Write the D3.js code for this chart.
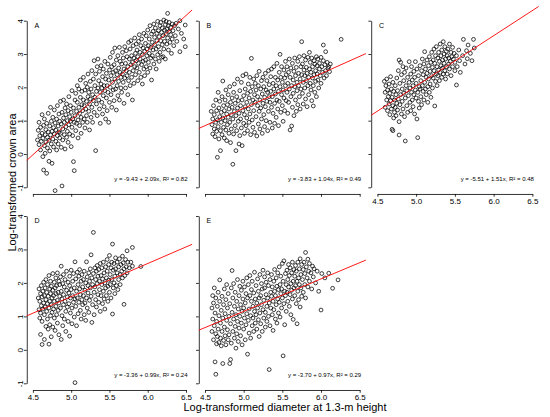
<!DOCTYPE html>
<html lang="en">
<head>
<meta charset="UTF-8" />
<title>Log-transformed crown area vs diameter</title>
<script src="https://d3js.org/d3.v7.min.js"></script>
<style>
  body { margin: 0; background: #fff; }
  svg { display: block; font-family: "Liberation Sans", Arial, sans-serif; }
  svg text { fill: #000; }
  .pt { fill: none; stroke: #000; stroke-width: 0.75; }
  .fit { stroke: #ff0000; stroke-width: 0.9; }
</style>
</head>
<body>
<svg id="chart" width="550" height="417"></svg>
<script>
// panel labels and fitted regressions
const panelLetters = ["A", "B", "C", "D", "E"];
const intercepts = [-9.43, -3.83, -5.51, -3.36, -3.70];
const slopes = [2.09, 1.04, 1.51, 0.99, 0.97];
const r2 = [0.82, 0.49, 0.48, 0.24, 0.29];
const xTicks = [4.5, 5.0, 5.5, 6.0, 6.5];
const yTicks = [-1, 0, 1, 2, 3, 4];

// points: [log diameter, log crown area]
const ptsA = [
[4.56,0.42],[4.57,0.71],[4.58,0.28],[4.58,0.95],[4.59,0.55],[4.60,0.12],[4.60,0.80],[4.61,0.38],[4.62,1.18],[4.62,0.62],[4.63,-0.08],[4.63,0.47],[4.64,0.86],[4.64,-0.48],[4.65,0.25],[4.65,1.05],
[4.66,0.58],[4.66,0.02],[4.67,0.73],[4.67,0.36],[4.68,-0.58],[4.68,0.92],[4.69,0.18],[4.69,0.50],[4.70,1.22],[4.70,0.66],[4.71,-0.22],[4.71,0.41],[4.72,0.84],[4.72,0.09],[4.73,0.57],[4.73,1.40],[4.74,0.30],[4.74,0.98],[4.75,0.68],[4.75,-0.28],
[4.76,0.45],[4.76,1.10],[4.77,0.79],[4.77,0.21],[4.78,0.60],[4.78,1.32],[4.79,-1.10],[4.79,0.93],[4.80,0.38],[4.80,0.72],[4.81,1.05],[4.81,0.12],[4.82,0.55],[4.82,1.45],[4.83,0.84],[4.83,0.30],[4.84,0.66],[4.84,1.20],[4.85,0.48],[4.85,0.98],
[4.86,0.62],[4.86,1.58],[4.87,0.20],[4.87,0.90],[4.88,-0.96],[4.88,1.25],[4.89,0.75],[4.89,0.42],[4.90,1.08],[4.90,1.62],[4.91,0.58],[4.91,0.95],[4.92,1.38],[4.92,0.15],[4.93,0.82],[4.93,1.18],[4.94,0.50],[4.94,1.50],[4.95,1.00],[4.95,0.68],
[4.96,1.30],[4.96,0.35],[4.97,0.88],[4.97,1.72],[4.98,1.12],[4.98,0.60],[4.99,1.45],[4.99,0.98],[5.00,0.22],[5.00,1.25],[5.01,0.80],[5.01,1.90],[5.02,1.05],[5.02,0.55],[5.03,-0.23],[5.03,1.38],[5.04,-0.50],[5.04,0.95],[5.05,1.62],[5.05,1.15],
[5.06,0.70],[5.06,1.82],[5.07,1.28],[5.07,0.92],[5.08,1.55],[5.08,2.05],[5.09,1.02],[5.09,0.48],[5.10,1.40],[5.10,1.95],[5.11,0.85],[5.11,1.22],[5.12,1.70],[5.12,2.22],[5.13,1.10],[5.13,0.62],[5.14,1.48],[5.14,1.88],[5.15,1.30],[5.15,0.95],
[5.16,1.62],[5.16,2.30],[5.17,1.05],[5.17,1.45],[5.18,1.92],[5.18,0.78],[5.19,1.35],[5.19,2.12],[5.20,1.58],[5.20,1.15],[5.21,2.00],[5.21,0.95],[5.22,1.72],[5.22,2.40],[5.23,1.28],[5.23,1.85],[5.24,0.72],[5.24,1.50],[5.25,2.18],[5.25,1.65],
[5.26,1.10],[5.26,1.95],[5.27,2.50],[5.27,1.40],[5.28,1.78],[5.28,0.95],[5.29,2.25],[5.29,1.60],[5.30,2.80],[5.30,1.25],[5.31,2.05],[5.31,1.70],[5.32,0.10],[5.32,2.40],[5.33,1.50],[5.33,1.88],[5.34,2.62],[5.34,1.15],[5.35,1.98],[5.35,2.85],
[5.36,1.62],[5.36,2.20],[5.37,1.35],[5.37,2.48],[5.38,1.85],[5.38,0.92],[5.39,2.10],[5.39,2.65],[5.40,1.55],[5.40,1.98],[5.41,2.32],[5.41,1.20],[5.42,1.75],[5.42,2.55],[5.43,2.05],[5.43,1.42],[5.44,2.78],[5.44,1.90],[5.45,2.25],[5.45,1.05],
[5.46,1.68],[5.46,2.42],[5.47,2.05],[5.47,1.30],[5.48,2.70],[5.48,1.85],[5.49,2.22],[5.49,0.95],[5.50,1.55],[5.50,2.52],[5.51,2.00],[5.51,2.90],[5.52,1.78],[5.52,2.35],[5.53,1.40],[5.53,2.62],[5.54,2.15],[5.54,3.05],[5.55,1.92],[5.55,2.45],
[5.56,2.68],[5.56,1.60],[5.57,2.25],[5.57,3.18],[5.58,1.95],[5.58,2.50],[5.59,2.82],[5.59,1.32],[5.60,2.38],[5.60,2.05],[5.61,2.95],[5.61,1.75],[5.62,2.58],[5.62,2.18],[5.63,3.20],[5.63,1.62],[5.64,2.45],[5.64,2.78],[5.65,1.98],[5.65,2.30],
[5.66,2.70],[5.66,1.85],[5.67,3.05],[5.67,2.40],[5.68,2.15],[5.68,2.88],[5.69,1.52],[5.69,2.55],[5.70,3.22],[5.70,2.28],[5.71,2.72],[5.71,1.98],[5.72,2.50],[5.72,3.10],[5.73,2.35],[5.73,2.92],[5.74,1.78],[5.74,2.62],[5.75,3.35],[5.75,2.20],
[5.76,2.85],[5.76,2.45],[5.77,3.15],[5.77,2.05],[5.78,2.68],[5.78,3.40],[5.79,2.30],[5.79,2.95],[5.80,1.62],[5.80,2.75],[5.81,3.25],[5.81,2.50],[5.82,2.88],[5.82,2.12],[5.83,3.48],[5.83,2.62],[5.84,3.02],[5.84,2.38],[5.85,2.80],[5.85,3.30],
[5.86,2.58],[5.86,3.12],[5.87,2.92],[5.87,2.20],[5.88,3.38],[5.88,2.72],[5.89,3.58],[5.89,2.45],[5.90,3.05],[5.90,2.85],[5.91,2.30],[5.91,3.25],[5.92,2.68],[5.92,3.45],[5.93,2.98],[5.93,2.10],[5.94,3.18],[5.94,2.78],[5.95,3.62],[5.95,2.55],
[5.96,3.08],[5.96,2.35],[5.97,3.32],[5.97,2.82],[5.98,3.55],[5.98,2.62],[5.99,3.15],[5.99,2.95],[6.00,3.72],[6.00,2.45],[6.01,3.25],[6.01,2.75],[6.02,3.45],[6.02,3.02],[6.03,2.58],[6.03,3.85],[6.04,3.20],[6.04,2.88],[6.05,3.60],[6.05,2.22],
[6.06,3.35],[6.06,2.95],[6.07,3.68],[6.07,3.12],[6.08,2.70],[6.08,3.90],[6.09,3.28],[6.09,3.50],[6.10,2.85],[6.10,3.78],[6.11,3.15],[6.11,2.55],[6.12,3.62],[6.12,3.40],[6.13,3.98],[6.13,2.98],[6.14,3.22],[6.14,3.70],[6.15,2.78],[6.15,3.52],
[6.16,3.85],[6.16,3.05],[6.17,3.40],[6.17,3.95],[6.18,2.90],[6.18,3.65],[6.19,3.28],[6.19,3.78],[6.20,2.92],[6.20,3.55],[6.21,4.02],[6.21,3.15],[6.22,3.72],[6.22,3.38],[6.23,3.88],[6.23,2.85],[6.24,3.60],[6.24,3.98],[6.25,3.30],[6.25,3.75],
[6.26,4.22],[6.26,3.48],[6.27,3.85],[6.27,3.12],[6.28,3.68],[6.28,3.95],[6.29,3.35],[6.30,3.80],[6.30,3.58],[6.31,3.02],[6.32,3.90],[6.32,3.45],[6.33,3.70],[6.34,3.25],[6.35,3.85],
[6.36,3.55],[6.37,3.92],[6.38,3.38],[6.40,3.75],[6.42,4.00],[6.42,3.07],[6.44,3.62],[6.47,3.45],[6.49,3.87],[6.49,3.22]
];

const ptsB = [
[4.58,1.28],[4.59,0.88],[4.60,1.05],[4.60,0.60],[4.61,1.45],[4.62,0.75],[4.62,1.18],[4.63,0.52],[4.64,0.95],[4.64,1.62],[4.65,1.30],[4.65,0.68],
[4.66,-0.10],[4.66,1.02],[4.67,1.85],[4.67,0.82],[4.68,1.38],[4.68,0.45],[4.69,1.12],[4.69,1.58],[4.70,0.70],[4.70,0.10],[4.71,1.25],[4.71,0.95],[4.72,1.72],[4.72,0.58],[4.73,2.19],[4.73,1.08],[4.74,1.45],[4.74,0.80],[4.75,1.30],[4.75,0.48],
[4.76,1.62],[4.76,1.00],[4.77,0.72],[4.77,1.92],[4.78,1.20],[4.78,0.40],[4.79,1.48],[4.79,0.88],[4.80,1.78],[4.80,1.10],[4.81,0.62],[4.81,1.35],[4.82,2.02],[4.82,0.95],[4.83,0.34],[4.83,1.55],[4.84,1.18],[4.84,0.75],[4.85,1.68],[4.85,1.40],
[4.86,-0.31],[4.86,1.05],[4.87,1.85],[4.87,0.60],[4.88,1.28],[4.88,2.10],[4.89,0.85],[4.89,1.52],[4.90,0.10],[4.90,1.15],[4.91,1.72],[4.91,0.70],[4.92,1.38],[4.92,2.25],[4.93,0.98],[4.93,1.60],[4.94,0.30],[4.94,1.22],[4.95,1.90],[4.95,0.55],
[4.96,1.45],[4.96,1.05],[4.97,2.15],[4.97,0.78],[4.98,0.25],[4.98,1.62],[4.99,1.30],[4.99,2.35],[5.00,0.92],[5.00,1.75],[5.01,1.18],[5.01,0.62],[5.02,1.95],[5.02,1.42],[5.03,0.85],[5.03,2.40],[5.04,1.55],[5.04,1.08],[5.05,1.82],[5.05,0.70],
[5.06,1.35],[5.06,2.10],[5.07,0.95],[5.07,1.68],[5.08,2.30],[5.08,1.20],[5.09,0.58],[5.09,1.88],[5.10,2.87],[5.10,1.48],[5.11,1.02],[5.11,2.02],[5.12,1.62],[5.12,0.80],[5.13,2.25],[5.13,1.30],[5.14,1.78],[5.14,0.65],[5.15,1.55],[5.15,2.12],
[5.16,1.12],[5.16,1.92],[5.17,0.54],[5.17,2.35],[5.18,1.45],[5.18,1.72],[5.19,0.90],[5.19,2.05],[5.20,1.28],[5.20,2.48],[5.21,1.62],[5.21,0.75],[5.22,1.95],[5.22,1.38],[5.23,2.20],[5.23,1.05],[5.24,1.80],[5.24,0.62],[5.25,1.52],[5.25,2.30],
[5.26,1.18],[5.26,2.02],[5.27,1.70],[5.27,0.82],[5.28,2.42],[5.28,1.42],[5.29,1.92],[5.29,1.00],[5.30,2.20],[5.30,1.58],[5.31,0.70],[5.31,1.85],[5.32,2.50],[5.32,1.28],[5.33,1.72],[5.33,2.08],[5.34,0.95],[5.34,1.55],[5.35,2.32],[5.35,1.88],
[5.36,1.40],[5.36,2.55],[5.37,1.72],[5.37,0.78],[5.38,2.12],[5.38,1.22],[5.39,1.95],[5.39,2.62],[5.40,1.52],[5.40,0.92],[5.41,2.30],[5.41,1.80],[5.42,1.10],[5.42,2.05],[5.43,2.72],[5.43,1.62],[5.44,1.35],[5.44,2.22],[5.45,1.88],[5.45,0.85],
[5.46,2.45],[5.46,1.58],[5.47,2.99],[5.47,2.02],[5.48,1.25],[5.48,2.30],[5.49,1.78],[5.49,2.62],[5.50,1.45],[5.50,2.15],[5.51,1.92],[5.51,0.98],[5.52,2.52],[5.52,1.68],[5.53,2.28],[5.53,1.30],[5.54,2.05],[5.54,2.78],[5.55,1.60],[5.55,2.38],
[5.56,1.85],[5.56,2.62],[5.57,1.22],[5.57,2.12],[5.58,2.45],[5.58,1.55],[5.59,2.85],[5.59,1.95],[5.60,0.72],[5.60,2.30],[5.61,1.72],[5.61,2.58],[5.62,0.84],[5.62,2.05],[5.63,2.72],[5.63,1.40],[5.64,2.22],[5.64,1.82],[5.65,2.48],[5.65,1.15],
[5.66,2.02],[5.66,2.88],[5.67,1.62],[5.67,2.35],[5.68,1.28],[5.68,2.60],[5.69,2.15],[5.69,1.90],[5.70,2.78],[5.70,1.48],[5.71,2.42],[5.71,2.05],[5.72,1.72],[5.72,2.92],[5.73,2.25],[5.73,1.35],[5.74,2.62],[5.74,1.95],[5.75,3.37],[5.75,2.38],
[5.76,1.82],[5.76,2.70],[5.77,2.15],[5.77,1.50],[5.78,2.52],[5.78,2.95],[5.79,1.98],[5.79,2.35],[5.80,1.65],[5.80,2.82],[5.81,2.20],[5.81,2.60],[5.82,1.42],[5.82,2.42],[5.83,2.05],[5.83,2.90],[5.84,2.30],[5.84,1.78],[5.85,3.05],[5.85,2.55],
[5.86,2.12],[5.86,2.75],[5.87,1.92],[5.87,2.45],[5.88,2.88],[5.88,1.60],[5.89,2.28],[5.89,2.62],[5.90,1.44],[5.90,2.05],[5.91,2.80],[5.91,2.38],[5.92,1.85],[5.92,2.70],[5.93,2.50],[5.93,2.18],[5.94,2.92],[5.94,1.72],[5.95,2.40],[5.95,2.65],
[5.96,2.22],[5.96,2.85],[5.97,1.98],[5.98,2.55],[5.98,2.72],[5.99,2.35],[6.00,2.90],[6.00,2.12],[6.01,2.62],[6.02,2.45],[6.03,3.27],[6.03,2.80],[6.04,2.28],[6.05,2.68],[6.06,3.07],[6.06,2.50],[6.07,2.35],[6.08,2.75],[6.09,2.57],[6.10,2.62],[6.11,2.47],[6.12,2.70],
[6.26,3.44]
];

const ptsC = [
[4.59,2.18],[4.60,1.85],[4.60,1.40],[4.61,2.05],[4.62,1.62],[4.62,2.25],[4.63,1.30],[4.63,1.92],[4.64,1.72],[4.65,2.10],[4.65,1.50],
[4.66,1.82],[4.66,1.18],[4.67,2.32],[4.67,1.60],[4.68,1.35],[4.68,1.95],[4.69,0.74],[4.69,1.70],[4.70,0.70],[4.70,1.45],[4.70,2.15],[4.71,1.08],[4.71,1.88],[4.72,1.25],[4.72,1.62],[4.73,2.05],[4.73,1.40],[4.74,1.78],[4.74,1.15],[4.75,2.28],[4.75,1.52],
[4.76,1.90],[4.76,1.32],[4.77,2.50],[4.77,1.65],[4.78,2.82],[4.78,0.57],[4.78,0.97],[4.79,1.48],[4.79,2.12],[4.80,1.78],[4.80,2.75],[4.81,1.20],[4.81,2.38],[4.82,1.95],[4.82,1.58],[4.83,2.62],[4.83,1.35],[4.84,2.20],[4.84,1.82],[4.85,1.12],[4.85,2.45],[4.86,0.39],[4.86,1.68],[4.87,2.05],[4.87,2.58],[4.88,1.45],[4.88,1.90],[4.89,2.30],[4.89,1.25],[4.90,1.75],
[4.91,2.15],[4.91,2.77],[4.92,1.55],[4.92,1.98],[4.93,2.40],[4.93,1.30],[4.94,1.85],[4.94,2.62],[4.95,1.62],[4.95,2.22],[4.96,1.42],[4.96,2.05],[4.97,2.48],[4.97,1.78],[4.98,1.20],[4.98,2.30],[4.99,2.77],[4.99,1.92],[5.00,1.68],[5.00,2.12],[5.01,1.05],[5.01,2.55],[5.02,0.49],[5.02,1.85],[5.03,2.35],[5.03,1.58],[5.04,2.02],[5.04,1.38],[5.05,2.65],[5.05,1.95],
[5.06,2.20],[5.06,1.72],[5.07,2.50],[5.07,1.48],[5.08,2.85],[5.08,2.05],[5.09,1.88],[5.09,2.38],[5.10,1.62],[5.10,2.70],[5.11,3.07],[5.11,2.15],[5.12,1.95],[5.12,2.55],[5.13,2.30],[5.13,1.78],[5.14,2.82],[5.14,2.42],[5.15,2.02],[5.15,1.55],[5.16,2.65],[5.16,2.25],[5.17,2.92],[5.17,1.85],[5.18,2.48],[5.18,2.10],[5.19,1.70],[5.19,2.75],[5.20,2.35],[5.20,3.05],
[5.21,2.60],[5.21,1.98],[5.22,2.82],[5.22,2.28],[5.23,3.15],[5.23,2.50],[5.24,1.44],[5.24,2.72],[5.25,2.18],[5.25,2.95],[5.26,2.40],[5.26,3.22],[5.27,2.62],[5.27,2.05],[5.28,2.88],[5.28,2.35],[5.29,3.05],[5.29,2.52],[5.30,2.20],[5.30,2.78],[5.31,3.30],[5.31,2.45],[5.32,2.65],[5.32,2.95],[5.33,2.30],[5.33,3.12],[5.34,2.58],[5.34,2.82],[5.35,3.37],[5.35,2.40],
[5.36,2.72],[5.36,3.00],[5.37,2.50],[5.37,3.22],[5.38,2.85],[5.38,2.25],[5.39,3.08],[5.39,2.62],[5.40,2.95],[5.40,2.40],[5.41,3.15],[5.42,2.70],[5.42,2.88],[5.43,3.30],[5.43,2.55],[5.44,2.78],[5.45,3.05],[5.45,2.35],[5.46,2.92],[5.47,3.20],[5.47,2.62],[5.48,2.85],[5.49,3.02],[5.50,2.50],[5.50,2.75],
[5.52,2.07],[5.52,2.95],[5.53,2.62],[5.55,3.12],[5.56,2.80],[5.57,2.45],[5.60,2.95],[5.61,3.44],[5.63,2.70],[5.65,3.10],[5.66,2.86],[5.67,3.27],[5.70,3.02],[5.72,2.80],[5.74,3.44],[5.75,3.18]
];

const ptsD = [
[4.57,1.55],[4.58,1.20],[4.58,1.82],[4.59,0.95],[4.59,1.45],[4.60,0.46],[4.60,1.68],[4.60,1.10],[4.61,1.92],[4.61,1.32],[4.62,0.16],[4.62,1.58],[4.62,0.85],[4.63,1.75],[4.63,1.22],[4.64,2.02],[4.64,1.40],[4.65,0.31],[4.65,1.05],[4.65,1.62],
[4.66,1.85],[4.66,1.28],[4.67,0.70],[4.67,1.50],[4.67,2.10],[4.68,1.15],[4.68,1.72],[4.69,0.92],[4.69,1.38],[4.69,1.95],[4.70,1.60],[4.70,0.62],[4.71,0.17],[4.71,1.25],[4.71,2.22],[4.72,1.82],[4.72,1.45],[4.72,0.75],[4.73,1.02],[4.73,1.68],[4.73,2.05],[4.74,0.39],[4.74,1.35],[4.74,1.90],[4.75,1.55],[4.75,1.12],
[4.76,2.28],[4.76,0.68],[4.76,1.78],[4.77,1.22],[4.77,1.62],[4.78,0.95],[4.78,2.02],[4.78,1.45],[4.79,1.85],[4.79,0.58],[4.80,1.30],[4.80,2.15],[4.80,1.68],[4.81,1.05],[4.81,1.92],[4.82,1.48],[4.82,0.80],[4.82,2.30],[4.83,1.72],[4.83,1.18],[4.84,2.05],[4.84,1.40],[4.84,0.45],[4.85,1.60],[4.85,1.95],
[4.86,1.25],[4.86,2.18],[4.87,2.50],[4.87,0.31],[4.87,1.75],[4.88,1.02],[4.88,1.52],[4.89,1.98],[4.89,0.72],[4.90,1.35],[4.90,2.25],[4.90,1.65],[4.91,0.92],[4.91,1.88],[4.92,1.45],[4.92,2.10],[4.93,1.15],[4.93,0.55],[4.94,1.78],[4.94,2.35],[4.95,1.28],[4.95,1.58],
[4.96,2.02],[4.96,0.85],[4.97,1.70],[4.97,1.38],[4.98,0.41],[4.98,2.20],[4.98,1.92],[4.99,1.10],[4.99,1.55],[5.00,2.38],[5.00,1.80],[5.01,1.25],[5.01,0.78],[5.02,2.05],[5.02,1.62],[5.03,1.42],[5.03,2.28],[5.04,0.98],[5.04,1.85],[5.05,-0.98],[5.05,2.63],[5.05,1.52],
[5.06,2.12],[5.06,1.30],[5.07,1.75],[5.07,0.72],[5.08,2.32],[5.08,1.55],[5.09,1.95],[5.09,1.08],[5.10,2.20],[5.10,1.42],[5.11,1.82],[5.11,2.40],[5.12,1.18],[5.12,1.65],[5.13,2.05],[5.13,0.92],[5.14,1.50],[5.14,2.25],[5.15,1.88],[5.15,1.35],
[5.16,2.10],[5.16,1.62],[5.17,1.05],[5.17,2.35],[5.18,1.78],[5.18,1.40],[5.19,2.00],[5.19,0.88],[5.20,2.63],[5.20,1.55],[5.21,2.18],[5.21,1.25],[5.22,1.92],[5.22,1.70],[5.23,2.30],[5.23,1.12],[5.24,1.48],[5.24,2.05],[5.25,1.85],[5.25,2.42],
[5.26,2.84],[5.26,1.60],[5.27,0.82],[5.27,2.15],[5.28,1.95],[5.28,1.35],[5.29,3.51],[5.29,2.28],[5.30,1.72],[5.30,1.05],[5.31,2.45],[5.31,1.88],[5.32,1.50],[5.32,2.10],[5.33,2.35],[5.33,1.28],[5.34,1.98],[5.34,2.52],[5.35,1.65],[5.35,2.20],
[5.36,1.42],[5.36,2.40],[5.37,2.05],[5.37,1.80],[5.38,2.58],[5.38,1.15],[5.39,2.22],[5.39,1.62],[5.40,1.95],[5.40,2.45],[5.41,1.38],[5.41,2.12],[5.42,2.62],[5.42,1.75],[5.43,1.52],[5.43,2.30],[5.44,2.00],[5.44,1.22],[5.45,2.48],[5.45,1.85],
[5.46,2.15],[5.46,1.62],[5.47,2.70],[5.47,2.35],[5.48,1.90],[5.48,1.45],[5.49,2.55],[5.49,2.08],[5.50,1.72],[5.50,2.82],[5.51,2.25],[5.51,1.95],[5.52,2.45],[5.52,1.55],[5.53,2.62],[5.53,2.10],[5.54,1.07],[5.54,3.16],[5.55,2.38],[5.55,1.85],
[5.56,2.00],[5.56,2.58],[5.57,2.20],[5.57,1.68],[5.58,2.75],[5.58,2.42],[5.59,1.92],[5.60,2.30],[5.60,2.62],[5.61,1.80],[5.62,2.48],[5.62,2.10],[5.63,2.72],[5.64,2.25],[5.64,1.95],[5.65,2.55],
[5.66,2.35],[5.67,2.80],[5.67,2.15],[5.68,2.60],[5.69,1.36],[5.69,2.42],[5.70,2.22],[5.71,2.70],[5.72,2.48],[5.73,2.96],[5.73,2.30],[5.74,2.62],[5.76,2.45],[5.78,2.62],[5.80,3.06],[5.80,2.50],
[5.91,2.49]
];

const ptsE = [
[4.59,1.25],[4.59,0.55],[4.60,1.62],[4.60,0.92],[4.61,0.30],[4.61,1.40],[4.62,0.72],[4.62,1.85],[4.63,-0.36],[4.63,1.10],[4.64,-0.73],[4.64,0.48],[4.64,1.55],[4.65,0.85],[4.65,0.18],
[4.66,1.30],[4.66,0.40],[4.67,1.72],[4.67,0.62],[4.68,1.02],[4.68,0.22],[4.69,2.09],[4.69,1.45],[4.70,0.35],[4.70,0.80],[4.71,1.18],[4.71,0.12],[4.72,1.60],[4.72,0.55],[4.73,-0.41],[4.73,0.95],[4.74,1.35],[4.74,0.28],[4.75,1.82],[4.75,0.68],
[4.76,1.08],[4.76,0.42],[4.77,1.50],[4.77,0.15],[4.78,0.88],[4.78,1.95],[4.79,0.60],[4.79,1.25],[4.80,0.30],[4.80,1.68],[4.81,1.00],[4.81,0.45],[4.82,-0.41],[4.82,1.38],[4.83,-0.29],[4.83,0.78],[4.84,1.85],[4.84,0.20],[4.85,2.37],[4.85,1.12],
[4.86,0.55],[4.86,1.55],[4.87,0.92],[4.87,1.98],[4.88,0.35],[4.88,1.30],[4.89,0.70],[4.89,1.72],[4.90,0.05],[4.90,1.05],[4.91,1.45],[4.91,0.48],[4.92,2.10],[4.92,0.85],[4.93,1.22],[4.93,0.25],[4.94,1.62],[4.94,0.65],[4.95,1.90],[4.95,1.00],
[4.96,1.35],[4.96,0.42],[4.97,0.80],[4.97,1.78],[4.98,1.15],[4.98,0.15],[4.99,2.05],[4.99,1.52],[5.00,0.62],[5.00,1.25],[5.01,0.95],[5.01,1.88],[5.02,0.30],[5.02,1.40],[5.03,1.68],[5.03,0.75],[5.04,2.15],[5.04,1.08],[5.05,-0.13],[5.05,1.55],
[5.06,0.88],[5.06,1.95],[5.07,1.22],[5.07,0.50],[5.08,1.62],[5.08,2.22],[5.09,1.02],[5.09,0.35],[5.10,1.45],[5.10,1.80],[5.11,0.72],[5.11,2.05],[5.12,1.30],[5.12,0.95],[5.13,1.70],[5.13,0.55],[5.14,2.32],[5.14,1.15],[5.15,1.52],[5.15,0.80],
[5.16,1.92],[5.16,1.05],[5.17,0.62],[5.17,1.40],[5.18,2.12],[5.18,1.25],[5.19,0.90],[5.19,1.75],[5.20,1.55],[5.20,0.40],[5.21,2.25],[5.21,1.10],[5.22,1.62],[5.22,0.78],[5.23,1.98],[5.23,1.35],[5.24,0.55],[5.24,1.82],[5.25,1.20],[5.25,2.38],
[5.26,1.48],[5.26,0.95],[5.27,1.85],[5.27,2.18],[5.28,1.12],[5.28,0.68],[5.29,1.65],[5.29,2.02],[5.30,1.30],[5.30,0.85],[5.31,2.30],[5.31,1.55],[5.32,1.00],[5.32,1.92],[5.33,-0.59],[5.33,1.40],[5.34,2.10],[5.34,0.72],[5.35,1.72],[5.35,1.25],
[5.36,2.25],[5.36,1.60],[5.37,1.05],[5.37,1.88],[5.38,0.58],[5.38,1.45],[5.39,2.05],[5.39,1.20],[5.40,1.75],[5.40,2.40],[5.41,0.92],[5.41,1.62],[5.42,2.15],[5.42,1.35],[5.43,1.90],[5.43,0.80],[5.44,1.52],[5.44,2.30],[5.45,1.10],[5.45,1.80],
[5.46,2.48],[5.46,1.42],[5.47,1.95],[5.47,0.98],[5.48,1.68],[5.48,2.20],[5.49,1.25],[5.49,1.82],[5.50,2.58],[5.50,1.55],[5.51,-0.18],[5.51,2.05],[5.52,2.66],[5.52,1.38],[5.53,1.75],[5.53,0.75],[5.54,2.28],[5.54,1.62],[5.55,1.95],[5.55,1.15],
[5.56,2.38],[5.56,1.72],[5.57,1.45],[5.57,2.10],[5.58,2.55],[5.58,1.88],[5.59,1.30],[5.59,2.22],[5.60,1.65],[5.60,2.45],[5.61,1.98],[5.61,1.05],[5.62,2.30],[5.62,1.78],[5.63,1.52],[5.63,2.62],[5.64,0.91],[5.64,2.05],[5.65,1.85],[5.65,2.40],
[5.66,1.62],[5.66,2.20],[5.67,2.52],[5.67,1.92],[5.68,1.38],[5.68,2.35],[5.69,2.05],[5.69,0.78],[5.70,2.62],[5.70,1.75],[5.71,2.15],[5.71,1.50],[5.72,2.42],[5.72,1.95],[5.73,2.72],[5.73,1.28],[5.74,2.25],[5.74,1.85],[5.75,2.55],[5.75,1.60],
[5.76,2.10],[5.77,2.40],[5.77,1.72],[5.78,2.62],[5.79,1.95],[5.79,2.28],[5.80,2.91],[5.80,1.55],[5.81,2.48],[5.82,2.15],[5.83,2.71],[5.83,1.88],[5.84,2.35],[5.85,2.05],[5.85,2.58],
[5.87,2.30],[5.88,1.82],[5.89,2.50],[5.90,2.18],[5.91,2.42],[5.93,2.00],[5.95,2.35],[5.97,1.75],[6.00,1.19],[6.01,2.28],[6.05,2.15],[6.10,2.29],[6.15,1.84],[6.22,2.09]
];

const panelPoints = [ptsA, ptsB, ptsC, ptsD, ptsE];

// grid placement (px of x = 4.5 / 6.5, y = 4 / -1)
const colX = [[32.9, 186], [205, 359.7], [377.4, 532.4]];
const rowY = [[20.7, 187.3], [216, 383.3]];
const placement = [
  { col: 0, row: 0, xLab: false, yLab: true },
  { col: 1, row: 0, xLab: false, yLab: false },
  { col: 2, row: 0, xLab: true, yLab: false },
  { col: 0, row: 1, xLab: true, yLab: true },
  { col: 1, row: 1, xLab: true, yLab: false }
];

const svg = d3.select("#chart");
const fmtNum = (v) => v.toFixed(2);

placement.forEach((p, i) => {
  const x = d3.scaleLinear().domain([4.5, 6.5]).range(colX[p.col]);
  const y = d3.scaleLinear().domain([4, -1]).range(rowY[p.row]);
  const g = svg.append("g");

  // y axis, sitting on the left edge of the padded plot region
  const yAx = g.append("g")
    .attr("transform", `translate(${x(4.42)},0)`)
    .call(d3.axisLeft(y).tickValues(yTicks).tickSize(2.8).tickSizeOuter(0)
      .tickFormat(p.yLab ? (d) => String(d) : ""));
  yAx.selectAll("text")
    .attr("transform", "rotate(-90)")
    .attr("x", 0).attr("y", -3.4).attr("dy", 0)
    .style("text-anchor", "middle");

  // x axis below the padded region
  const xAx = g.append("g")
    .attr("transform", `translate(0,${y(-1.2)})`)
    .call(d3.axisBottom(x).tickValues(xTicks).tickSize(2.8).tickSizeOuter(0).tickPadding(2)
      .tickFormat(p.xLab ? (d) => d.toFixed(1) : ""));

  [yAx, xAx].forEach((ax) => {
    ax.attr("font-family", null).attr("font-size", 8);
    ax.selectAll("path, line").attr("stroke", "#000").attr("stroke-width", 0.8);
    ax.selectAll("text").attr("fill", "#000");
  });

  // scatter
  g.selectAll("circle")
    .data(panelPoints[i])
    .join("circle")
    .attr("class", "pt")
    .attr("cx", (d) => x(d[0]))
    .attr("cy", (d) => y(d[1]))
    .attr("r", 1.9);

  // regression line across the plot region
  const a = intercepts[i], b = slopes[i];
  g.append("line")
    .attr("class", "fit")
    .attr("x1", x(4.42)).attr("y1", y(a + b * 4.42))
    .attr("x2", x(6.58)).attr("y2", y(a + b * 6.58));

  g.append("text")
    .attr("x", x(4.5) + 1.5).attr("y", y(4) + 6.8)
    .attr("font-size", 7)
    .text(panelLetters[i]);

  g.append("text")
    .attr("x", x(6.5) + 1.5).attr("y", y(-0.8))
    .attr("font-size", 6)
    .attr("text-anchor", "end")
    .text(`y = ${fmtNum(a)} + ${fmtNum(b)}x, R\u00b2 = ${fmtNum(r2[i])}`);
});

// shared axis titles
svg.append("text")
  .attr("transform", "translate(15.5,182.5) rotate(-90)")
  .attr("text-anchor", "middle")
  .attr("font-size", 11)
  .text("Log-transformed crown area");

svg.append("text")
  .attr("x", 285).attr("y", 411)
  .attr("text-anchor", "middle")
  .attr("font-size", 11)
  .text("Log-transformed diameter at 1.3-m height");
</script>
</body>
</html>
